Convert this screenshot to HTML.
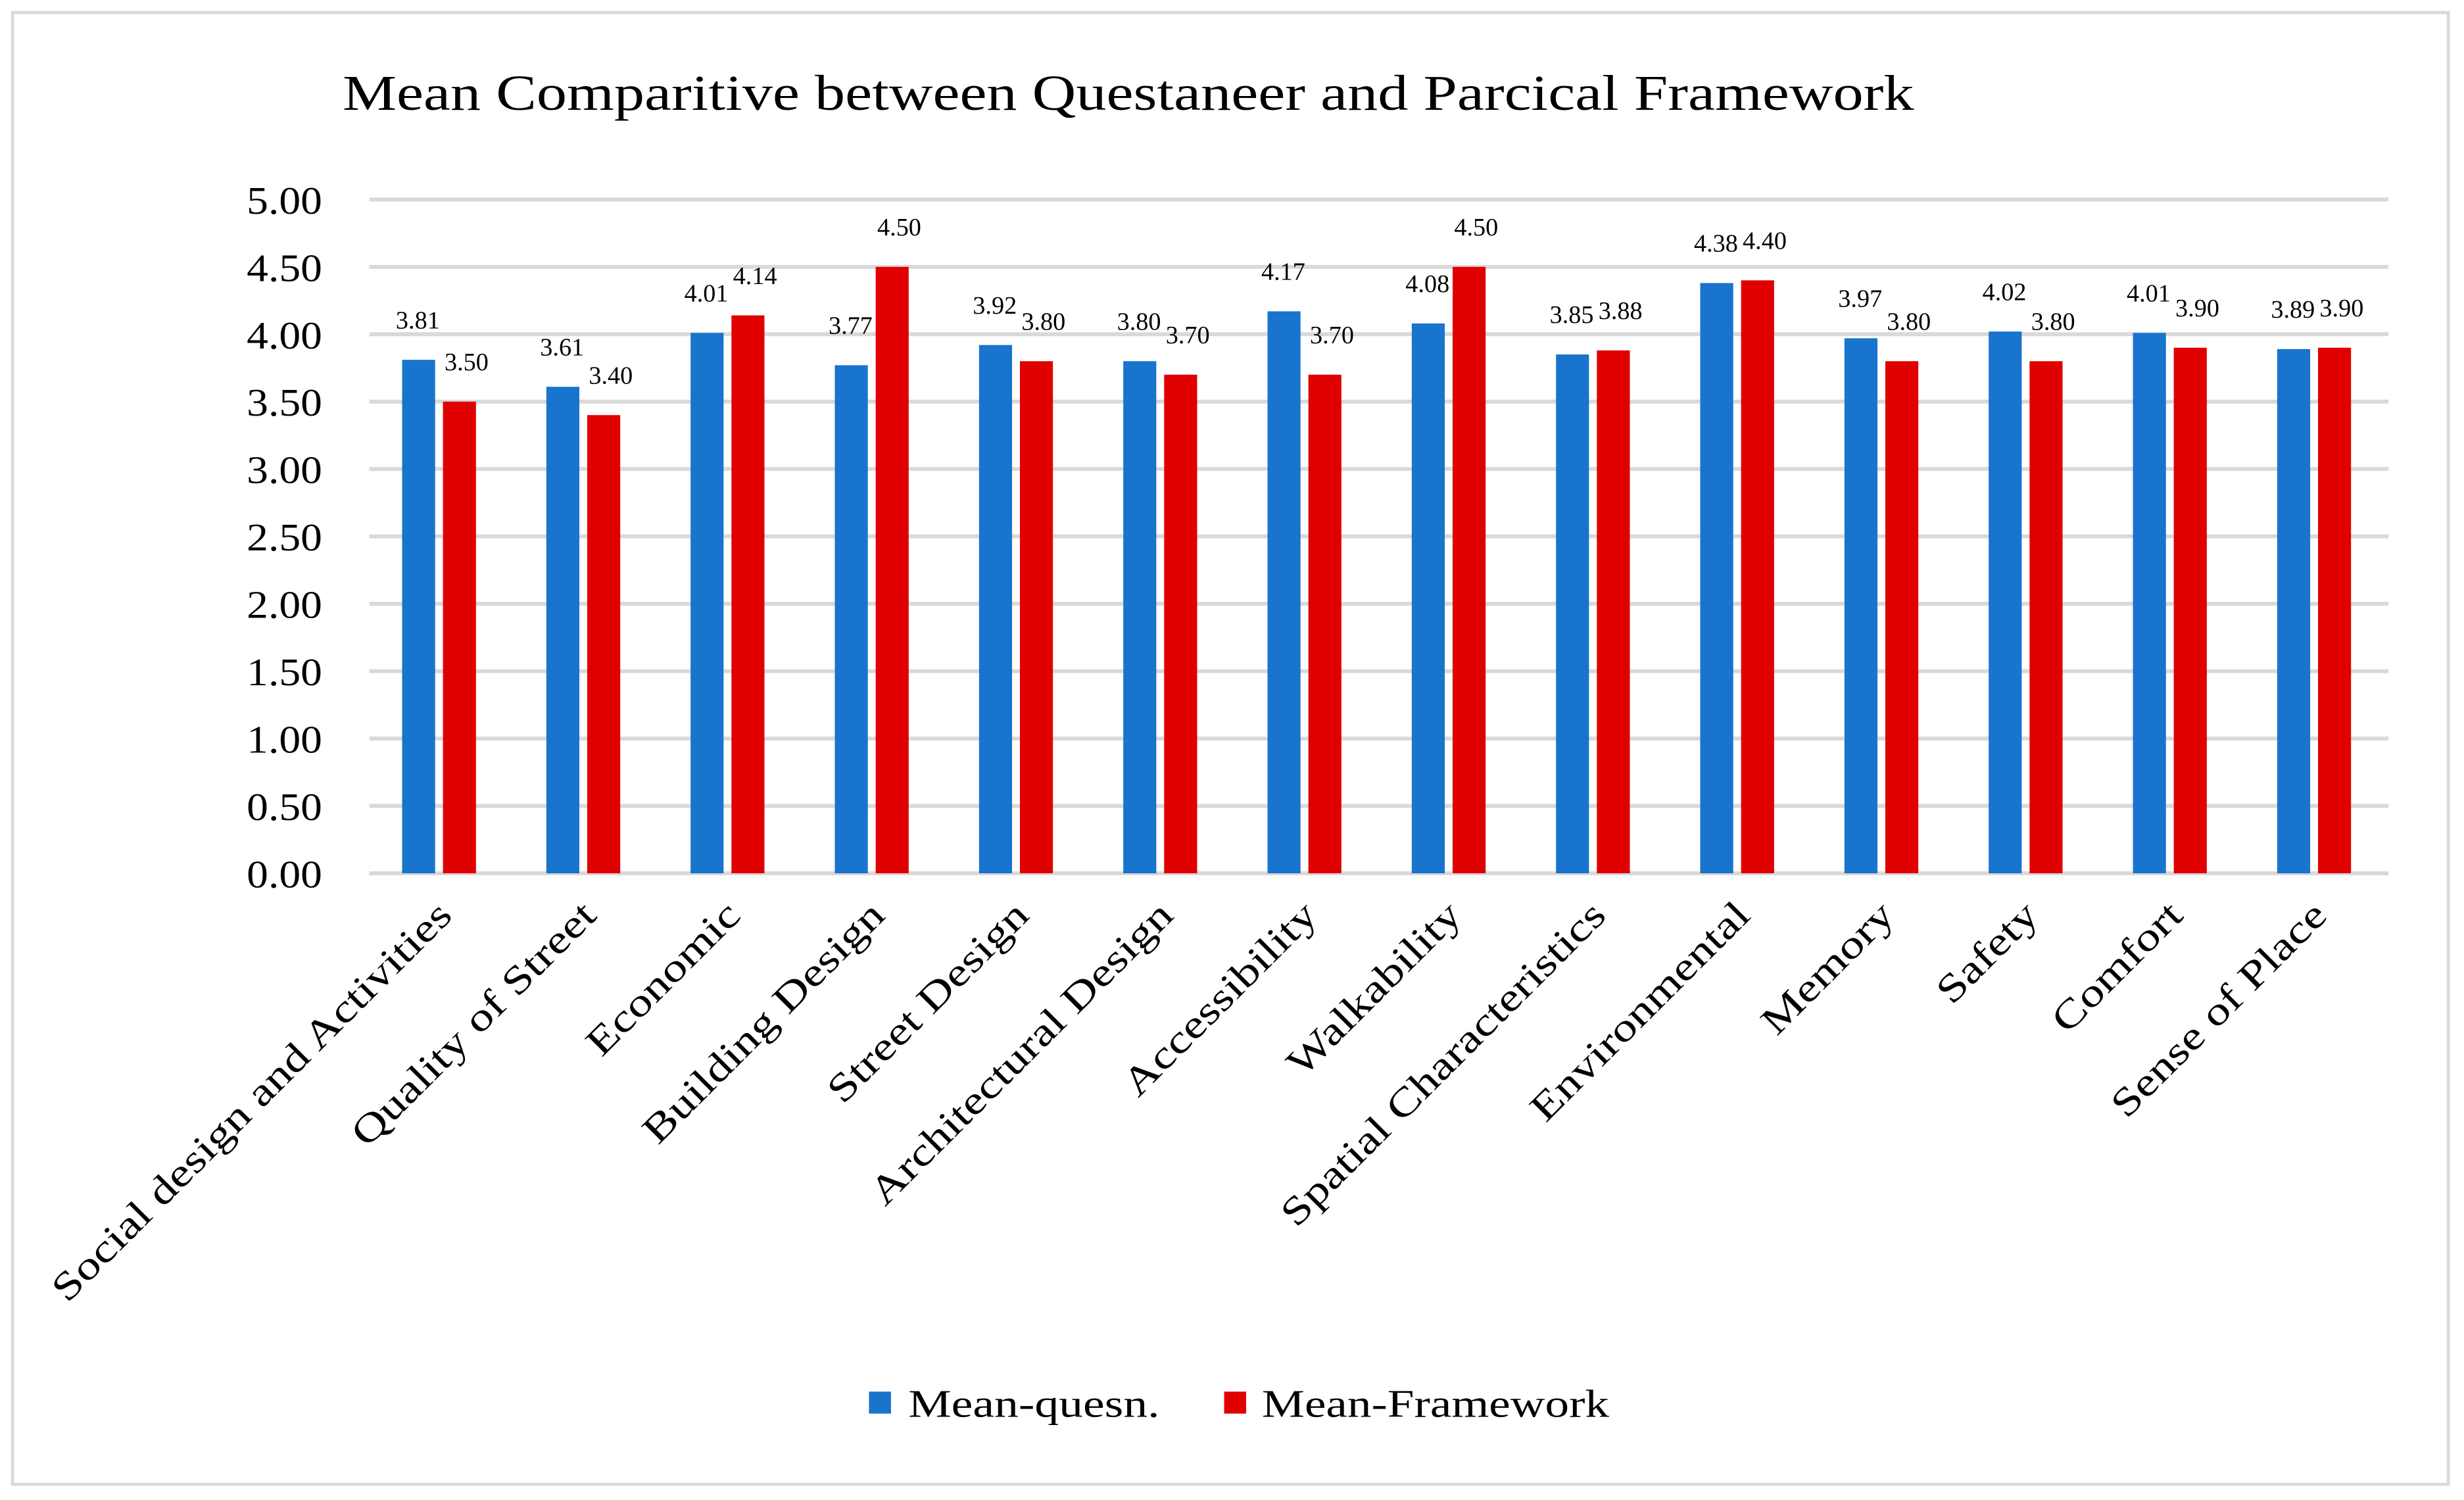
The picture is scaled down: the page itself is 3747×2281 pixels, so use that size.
<!DOCTYPE html>
<html><head><meta charset="utf-8"><style>
html,body{margin:0;padding:0;background:#fff;}
svg{display:block;}
text{font-family:"Liberation Serif",serif;fill:#000;}
</style></head><body>
<svg id="chart" width="3747" height="2281" viewBox="0 0 1568 955" preserveAspectRatio="none" xmlns="http://www.w3.org/2000/svg">
<rect x="8" y="8" width="1550" height="937" fill="#fff" stroke="#d9d9d9" stroke-width="2"/>
<text x="218" y="70" font-size="32" textLength="1000" lengthAdjust="spacingAndGlyphs">Mean Comparitive between Questaneer and Parcical Framework</text>
<g id="grid"></g><g id="bars"></g><g id="labels"></g>
<g>
<rect x="553" y="886" width="14" height="14" fill="#1874cd"/>
<text x="578" y="902" font-size="25" textLength="160" lengthAdjust="spacingAndGlyphs">Mean-quesn.</text>
<rect x="779" y="886" width="14" height="14" fill="#e00000"/>
<text x="803" y="902" font-size="25" textLength="221" lengthAdjust="spacingAndGlyphs">Mean-Framework</text>
</g>
</svg>
<script>
const categories=["Social design and Activities","Quality of Street","Economic","Building Design","Street Design","Architectural Design","Accessibility","Walkability","Spatial Characteristics","Environmental","Memory","Safety","Comfort","Sense of Place"];
const quesn=[3.81,3.61,4.01,3.77,3.92,3.80,4.17,4.08,3.85,4.38,3.97,4.02,4.01,3.89];
const framework=[3.50,3.40,4.14,4.50,3.80,3.70,3.70,4.50,3.88,4.40,3.80,3.80,3.90,3.90];
const ticks=[0,0.5,1,1.5,2,2.5,3,3.5,4,4.5,5];
const NS="http://www.w3.org/2000/svg";
const x0=235,x1=1520,yTop=127,yBot=556,vmax=5;
const y=v=>yBot-(v/vmax)*(yBot-yTop);
const bw=(x1-x0)/categories.length;
const cx=i=>x0+bw*(i+0.5);
function mk(tag,attrs,parent){const e=document.createElementNS(NS,tag);for(const k in attrs)e.setAttribute(k,attrs[k]);parent.appendChild(e);return e;}
const grid=document.getElementById('grid'),bars=document.getElementById('bars'),labels=document.getElementById('labels');
ticks.forEach(t=>{
 const l=mk('line',{x1:x0,x2:x1,y1:y(t),y2:y(t),stroke:'#d9d9d9','stroke-width':2.5},grid);
 
 
 const tx=mk('text',{x:205,y:y(t)+9,'text-anchor':'end','font-size':25,textLength:48,lengthAdjust:'spacingAndGlyphs'},grid);
 tx.textContent=t.toFixed(2);
 
 
});
categories.forEach((c,i)=>{
 const c0=cx(i);
 const b1=mk('rect',{x:c0-25,y:y(quesn[i]),width:21,height:yBot-y(quesn[i]),fill:'#1874cd'},bars);
 
 
 const b2=mk('rect',{x:c0+1,y:y(framework[i]),width:21,height:yBot-y(framework[i]),fill:'#e00000'},bars);
 
 
 const l1=mk('text',{x:c0-15,y:y(quesn[i])-20,'text-anchor':'middle','font-size':16},labels);
 l1.textContent=quesn[i].toFixed(2);
 
 
 const l2=mk('text',{x:c0+16,y:y(framework[i])-20,'text-anchor':'middle','font-size':16},labels);
 l2.textContent=framework[i].toFixed(2);
 
 
 const cl=mk('text',{x:c0+8,y:584,'text-anchor':'end','font-size':25,transform:`rotate(-45 ${c0+8} 584)`},labels);
 cl.textContent=c;
 
 
 const w=cl.getComputedTextLength();
 cl.setAttribute('textLength',(w*1.25).toFixed(1));
 cl.setAttribute('lengthAdjust','spacingAndGlyphs');
});
</script>
</body></html>
